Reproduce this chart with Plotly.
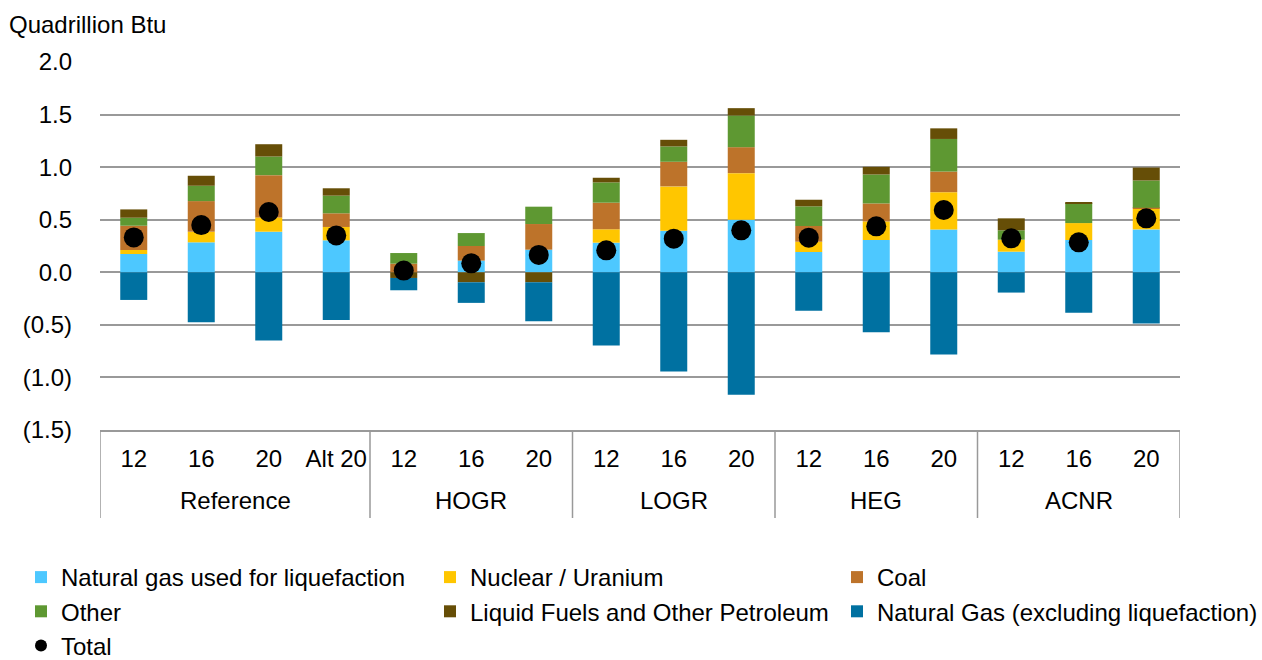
import plotly.graph_objects as go

groups = ["Reference"] * 4 + ["HOGR"] * 3 + ["LOGR"] * 3 + ["HEG"] * 3 + ["ACNR"] * 3
years = ["12", "16", "20", "Alt 20", "12", "16", "20", "12", "16", "20",
         "12", "16", "20", "12", "16", "20"]

lng = [0.174, 0.285, 0.386, 0.304, 0.0, 0.111, 0.215, 0.282, 0.396, 0.500,
       0.193, 0.307, 0.408, 0.196, 0.307, 0.408]
nuclear = [0.038, 0.101, 0.136, 0.127, 0.0, 0.0, 0.0, 0.127, 0.421, 0.443,
           0.098, 0.177, 0.354, 0.114, 0.161, 0.196]
coal = [0.231, 0.291, 0.402, 0.130, 0.082, 0.139, 0.244, 0.253, 0.234, 0.247,
        0.149, 0.171, 0.196, 0.0, 0.0, 0.010]
other = [0.076, 0.146, 0.177, 0.168, 0.101, 0.123, 0.165, 0.193, 0.146, 0.301,
         0.187, 0.275, 0.310, 0.089, 0.190, 0.259]
liquids = [0.079, 0.095, 0.117, 0.070, -0.054, -0.095, -0.095, 0.044, 0.063, 0.070,
           0.063, 0.073, 0.101, 0.114, 0.010, 0.123]
natgas = [-0.263, -0.475, -0.649, -0.453, -0.117, -0.196, -0.370, -0.696, -0.943, -1.165,
          -0.367, -0.570, -0.782, -0.193, -0.386, -0.487]
total = [0.332, 0.449, 0.573, 0.351, 0.016, 0.085, 0.165, 0.209, 0.320, 0.399,
         0.329, 0.437, 0.592, 0.323, 0.285, 0.513]

tick_vals = [2.0, 1.5, 1.0, 0.5, 0.0, -0.5, -1.0, -1.5]
tick_text = ["2.0", "1.5", "1.0", "0.5", "0.0", "(0.5)", "(1.0)", "(1.5)"]

# (name, values, colour, legend column)
series = [
    ("Natural gas used for liquefaction", lng, "#4DC8FF", "legend"),
    ("Nuclear / Uranium", nuclear, "#FFC600", "legend2"),
    ("Coal", coal, "#BD732A", "legend3"),
    ("Other", other, "#5E9832", "legend"),
    ("Liquid Fuels and Other Petroleum", liquids, "#664E07", "legend2"),
    ("Natural Gas (excluding liquefaction)", natgas, "#0071A1", "legend3"),
]

# unique category keys (scenario + year); the axis shows only the year
cats = [f"{g} {y}" for g, y in zip(groups, years)]

fig = go.Figure()
for name, vals, color, leg in series:
    fig.add_trace(go.Bar(x=cats, y=vals, name=name, legend=leg, legendgroup=name,
                         marker=dict(color=color, line=dict(width=0))))
fig.add_trace(go.Scatter(x=cats, y=total, name="Total", mode="markers", legend="legend",
                         legendgroup="Total", marker=dict(color="black", size=20)))

FONT = "Liberation Sans, Arial, sans-serif"
FS = 24
GRID = "#999999"
W_PLOT = 1080.0
H_PLOT = 368.0
PLOT_L, PLOT_T = 100, 62


def px_x(p):  # page pixel -> paper x
    return (p - PLOT_L) / W_PLOT


def px_y(p):  # page pixel -> paper y
    return (PLOT_T + H_PLOT - p) / H_PLOT


# group label annotations and divider shapes, placed on the category scale
annotations = [dict(text="Quadrillion Btu", xref="paper", yref="paper",
                    x=px_x(7), y=px_y(25), xanchor="left", yanchor="middle",
                    showarrow=False, font=dict(size=FS))]
shapes = []
order = []
for g in groups:
    if g not in order:
        order.append(g)
for g in order:
    idx = [i for i, gg in enumerate(groups) if gg == g]
    annotations.append(dict(text=g, xref="x", yref="paper",
                            x=(idx[0] + idx[-1]) / 2, y=px_y(501),
                            xanchor="center", yanchor="middle", showarrow=False,
                            font=dict(size=FS)))
    shapes.append(dict(type="line", xref="x", yref="paper",
                       x0=idx[0] - 0.5, x1=idx[0] - 0.5, y0=0, y1=px_y(518),
                       line=dict(color=GRID, width=1.5)))
shapes.append(dict(type="line", xref="x", yref="paper",
                   x0=len(groups) - 0.5, x1=len(groups) - 0.5, y0=0, y1=px_y(518),
                   line=dict(color=GRID, width=1.5)))

leg_common = dict(orientation="v", yanchor="top", xanchor="left", y=px_y(555),
                  itemwidth=30, itemsizing="constant", tracegroupgap=2,
                  font=dict(size=FS, family=FONT, color="black"),
                  bgcolor="rgba(0,0,0,0)", traceorder="normal")

fig.update_layout(
    width=1262, height=660,
    margin=dict(l=PLOT_L, r=1262 - PLOT_L - W_PLOT, t=PLOT_T,
                b=660 - PLOT_T - H_PLOT, autoexpand=False),
    barmode="relative", bargap=0.6,
    plot_bgcolor="white", paper_bgcolor="white",
    font=dict(family=FONT, size=FS, color="black"),
    legend=dict(leg_common, x=px_x(21)),
    legend2=dict(leg_common, x=px_x(430)),
    legend3=dict(leg_common, x=px_x(837)),
    annotations=annotations,
    shapes=shapes,
)
fig.update_yaxes(range=[-1.5, 2.0], tickvals=tick_vals, ticktext=tick_text,
                 showgrid=True, gridcolor=GRID, gridwidth=1.5,
                 zeroline=True, zerolinecolor=GRID, zerolinewidth=1.5,
                 ticks="", ticklabelstandoff=27, automargin=False,
                 tickfont=dict(size=FS))
fig.update_xaxes(type="category", range=[-0.5, len(cats) - 0.5], tickangle=0,
                 tickvals=cats, ticktext=years,
                 showline=True, linecolor=GRID, linewidth=1.5, showgrid=False,
                 ticks="", automargin=False, tickfont=dict(size=FS),
                 ticklabelstandoff=6)

fig.write_html("out.html", config={"displayModeBar": False},
               post_script="document.body.style.margin='0';")
